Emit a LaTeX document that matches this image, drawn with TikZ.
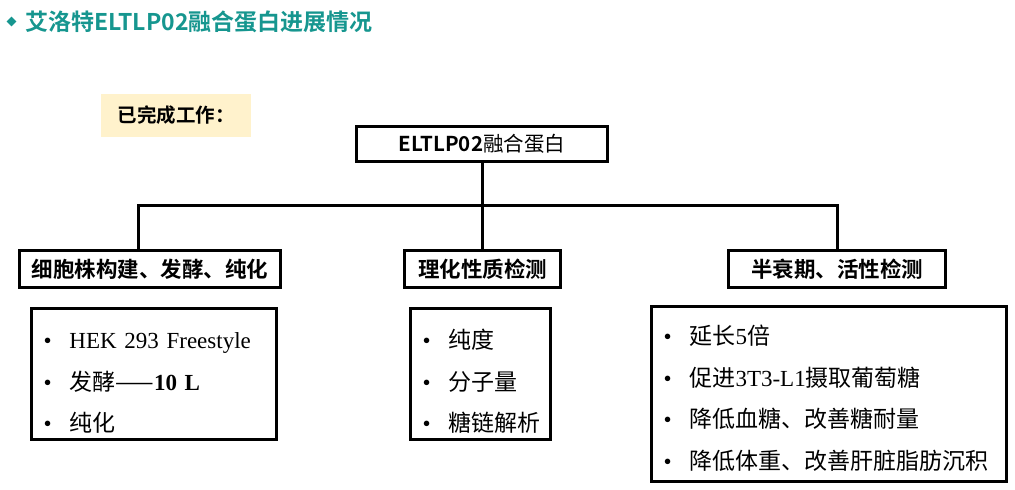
\documentclass[tikz,border=0pt]{standalone}
\usepackage{fontspec}
\setmainfont{Liberation Serif}
\newfontfamily\cjk{Noto Sans CJK SC}[BoldFont={Noto Sans CJK SC Bold}]
\usetikzlibrary{shapes.geometric}
\definecolor{teal1}{RGB}{22,150,143}
\definecolor{note}{RGB}{255,242,204}
\tikzstyle{head} = [rectangle, draw=black, line width=3pt, inner sep=0pt, minimum height=37pt, text centered, font=\cjk\bfseries\fontsize{21.5}{24}\selectfont]
\tikzstyle{list} = [rectangle, draw=black, line width=3pt, inner xsep=12pt, inner ysep=0pt, align=left, font=\fontsize{23}{41.5}\selectfont]
\tikzstyle{link} = [line width=3pt]
\newcommand{\zh}[1]{{\cjk #1}}
\newcommand{\itm}{\makebox[26pt][l]{\textbullet}}

\begin{document}
\begin{tikzpicture}[x=1pt, y=-1pt]
\useasboundingbox (0,0) rectangle (1015,490);
% title
\node (dot) [diamond, fill=teal1, minimum size=10pt, inner sep=0pt] at (11.5,21.5) {};
\node (title) [anchor=west, inner sep=0pt, text=teal1, font=\cjk\bfseries\fontsize{23}{25}\selectfont] at (25,21.5) {艾洛特ELTLP02融合蛋白进展情况};
\node (done) [rectangle, fill=note, minimum width=150pt, minimum height=43pt, font=\cjk\bfseries\fontsize{19.5}{21}\selectfont] at (176,115.5) {已完成工作：};
% tree
\node (top) [head, minimum width=251pt, minimum height=35pt, font=\cjk\bfseries\fontsize{20.5}{24}\selectfont] at (482,144) {ELTLP02{\mdseries 融合蛋白}};
\node (cell) [head, minimum width=261pt] at (150,269) {细胞株构建、发酵、纯化};
\node (phys) [head, minimum width=156pt] at (482.5,269) {理化性质检测};
\node (assay) [head, minimum width=217pt] at (837,269) {半衰期、活性检测};
\coordinate (bus) at (482,205);
\draw [link] (top) -- (bus);
\draw [link] (bus) -| ([xshift=-12pt]cell.north);
\draw [link] (bus) -| (phys);
\draw [link] (bus) -| (assay);
% lists
\node (celll) [list, text width=221pt, minimum width=245pt, minimum height=131pt] at (154,374) {\rule{0pt}{34pt}\itm HEK 293 Freestyle\\ \itm\zh{发酵——}\textbf{10 L}\\ \itm\zh{纯化}};
\node (physl) [list, text width=116pt, minimum width=140pt, minimum height=131pt] at (480.5,374) {\rule{0pt}{34pt}\itm\zh{纯度}\\ \itm\zh{分子量}\\ \itm\zh{糖链解析}};
\node (assayl) [list, text width=331pt, minimum width=355pt, minimum height=175pt] at (829,394) {\rule{0pt}{28pt}\itm\zh{延长}5\zh{倍}\\ \itm\zh{促进}3T3-L1\zh{摄取葡萄糖}\\ \itm\zh{降低血糖、改善糖耐量}\\ \itm\zh{降低体重、改善肝脏脂肪沉积}};
\end{tikzpicture}
\end{document}
